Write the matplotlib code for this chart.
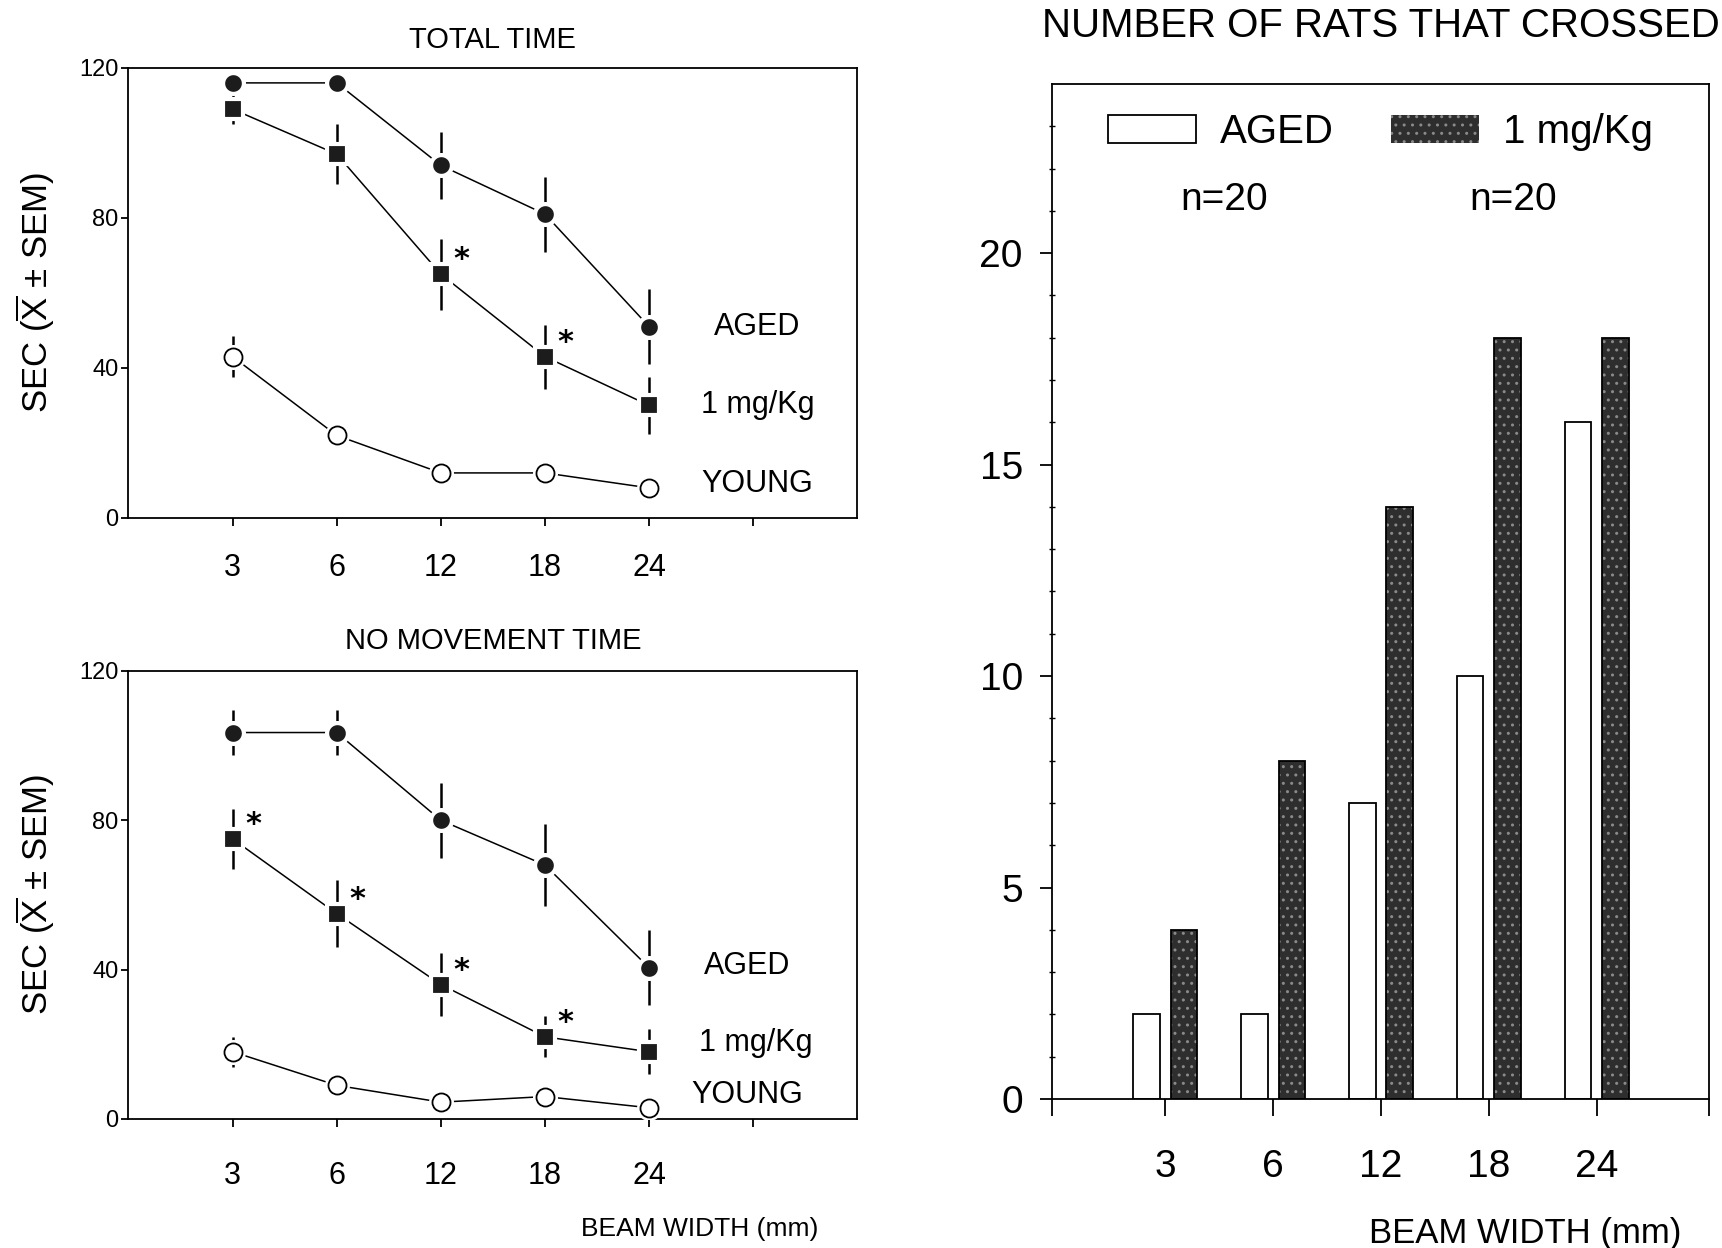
import matplotlib

matplotlib.use("Agg")
import matplotlib.pyplot as plt
import numpy as np
from matplotlib.patches import Patch

plt.rcParams.update(
    {
        "font.family": ["Liberation Sans Narrow", "Liberation Sans", "DejaVu Sans"],
        "mathtext.fontset": "custom",
        "mathtext.rm": "Liberation Sans",
        "mathtext.it": "Liberation Sans",
        "axes.linewidth": 1.3,
    }
)

# beam widths (mm), shared by all panels
widths = ["3", "6", "12", "18", "24"]

# total time, seconds (mean and SEM)
total_aged = [116, 116, 94, 81, 51]
total_aged_sem = [2, 2, 9, 10, 10]
total_drug = [109, 97, 65, 43, 30]
total_drug_sem = [4, 8, 9.5, 8.5, 7.5]
total_young = [43, 22, 12, 12, 8]
total_young_sem = [5.5, 3, 1, 1, 1]
total_stars = [2, 3]

# no movement time, seconds (mean and SEM)
still_aged = [103.5, 103.5, 80, 68, 40.5]
still_aged_sem = [6, 6, 10, 11, 10]
still_drug = [75, 55, 36, 22, 18]
still_drug_sem = [8, 9, 8.5, 5.5, 6]
still_young = [18, 9, 4.5, 6, 3]
still_young_sem = [4, 1, 1, 1, 1]
still_stars = [0, 1, 2, 3]

# rats that crossed, out of n=20 per group
crossed_aged = [2, 2, 7, 10, 16]
crossed_drug = [4, 8, 14, 18, 18]

fig = plt.figure(figsize=(17.22, 12.48), dpi=100)
ax_top = fig.add_axes([0.0746, 0.585, 0.4233, 0.3606])
ax_bot = fig.add_axes([0.0746, 0.1034, 0.4233, 0.359])
ax_bar = fig.add_axes([0.6109, 0.1194, 0.3815, 0.8133])


def line_panel(ax, aged, aged_sem, drug, drug_sem, young, young_sem, stars,
               title, title_pad, tick_pad, label_pos):
    x = np.arange(len(widths))
    kw = dict(color="black", lw=1.1, zorder=2)
    for vals in (aged, drug, young):
        ax.plot(x, vals, **kw)
    for vals, sem in ((aged, aged_sem), (drug, drug_sem), (young, young_sem)):
        ax.errorbar(x, vals, yerr=sem, fmt="none", ecolor="black", elinewidth=1.8,
                    capsize=0, zorder=2)
    # white halo keeps lines and error bars clear of the symbols
    ax.plot(x, aged, "o", ms=15, mfc="#1c1c1c", mec="white", mew=3, zorder=4)
    ax.plot(x, drug, "s", ms=14.5, mfc="#1c1c1c", mec="white", mew=3, zorder=4)
    ax.plot(x, young, "o", ms=18, mfc="white", mec="white", mew=0, zorder=4)
    ax.plot(x, young, "o", ms=13, mfc="white", mec="black", mew=1.3, zorder=5)
    for i in stars:
        ax.text(x[i] + 0.2, drug[i] + 3.8, "*", fontsize=22, fontweight="bold",
                ha="center", va="center", family="DejaVu Sans")
    for name, (lx, ly) in zip(["AGED", "1 mg/Kg", "YOUNG"], label_pos):
        ax.text(lx, ly, name, fontsize=22, ha="center", va="center")

    ax.set_xlim(-1, 6)
    ax.set_ylim(0, 120)
    ax.set_xticks(np.arange(6))
    ax.set_xticklabels(widths + [""])
    ax.set_yticks([0, 40, 80, 120])
    ax.tick_params(axis="x", direction="out", length=6, width=1.3, labelsize=22,
                   pad=tick_pad)
    ax.tick_params(axis="y", direction="out", length=5, width=1.3, labelsize=17,
                   pad=2)
    ax.set_title(title, fontsize=21, pad=title_pad)
    ax.set_ylabel(r"SEC ($\overline{\rm X}$ $\pm$ SEM)", fontsize=25)
    ax.yaxis.set_label_coords(-0.098, 0.5)


line_panel(ax_top, total_aged, total_aged_sem, total_drug, total_drug_sem,
           total_young, total_young_sem, total_stars, "TOTAL TIME", 14, 19,
           [(5.04, 51), (5.04, 30), (5.04, 9)])
line_panel(ax_bot, still_aged, still_aged_sem, still_drug, still_drug_sem,
           still_young, still_young_sem, still_stars, "NO MOVEMENT TIME", 16, 24,
           [(4.94, 41), (5.02, 20.4), (4.94, 6.4)])
ax_bot.text(0.783, -0.245, "BEAM WIDTH (mm)", transform=ax_bot.transAxes,
            fontsize=19, ha="center", va="center")

# bar panel
xb = np.arange(len(widths))
bw = 0.245
off = 0.173
ax_bar.bar(xb - off, crossed_aged, bw, facecolor="white", edgecolor="black",
           lw=1.3, zorder=2)
ax_bar.bar(xb + off, crossed_drug, bw, facecolor="#2e2e2e", edgecolor="#8a8a8a",
           hatch="..", lw=0, zorder=2)
ax_bar.bar(xb + off, crossed_drug, bw, fill=False, edgecolor="black", lw=1.3,
           zorder=3)

xlo, xhi = -1.05, 5.04
ax_bar.set_xlim(xlo, xhi)
ax_bar.set_ylim(0, 24)
ax_bar.set_xticks([xlo] + list(xb) + [xhi])
ax_bar.set_xticklabels([""] + widths + [""])
ax_bar.set_yticks([0, 5, 10, 15, 20])
ax_bar.set_yticks(np.arange(0, 24), minor=True)
ax_bar.tick_params(axis="x", direction="out", length=12, width=1.3, labelsize=28,
                   pad=24)
ax_bar.tick_params(axis="y", which="major", direction="out", length=9, width=1.3,
                   labelsize=28, pad=12)
ax_bar.tick_params(axis="y", which="minor", direction="inout", length=5, width=1)
ax_bar.set_title("NUMBER OF RATS THAT CROSSED", fontsize=29, pad=34)
ax_bar.text(0.72, -0.133, "BEAM WIDTH (mm)", transform=ax_bar.transAxes,
            fontsize=25, ha="center", va="center")

handles = [
    Patch(facecolor="white", edgecolor="black", lw=1.3),
    Patch(facecolor="#2e2e2e", edgecolor="#8a8a8a", hatch="..", lw=0),
]
ax_bar.legend(handles, ["AGED", "1 mg/Kg"], ncol=2, frameon=False, fontsize=29,
              loc="center", bbox_to_anchor=(0.5, 0.953), handlelength=2.2,
              handleheight=0.7, handletextpad=0.6, columnspacing=1.4)
ax_bar.text(0.262, 0.886, "n=20", transform=ax_bar.transAxes, fontsize=28,
            ha="center", va="center")
ax_bar.text(0.702, 0.886, "n=20", transform=ax_bar.transAxes, fontsize=28,
            ha="center", va="center")

fig.savefig("out.png", dpi=100)
